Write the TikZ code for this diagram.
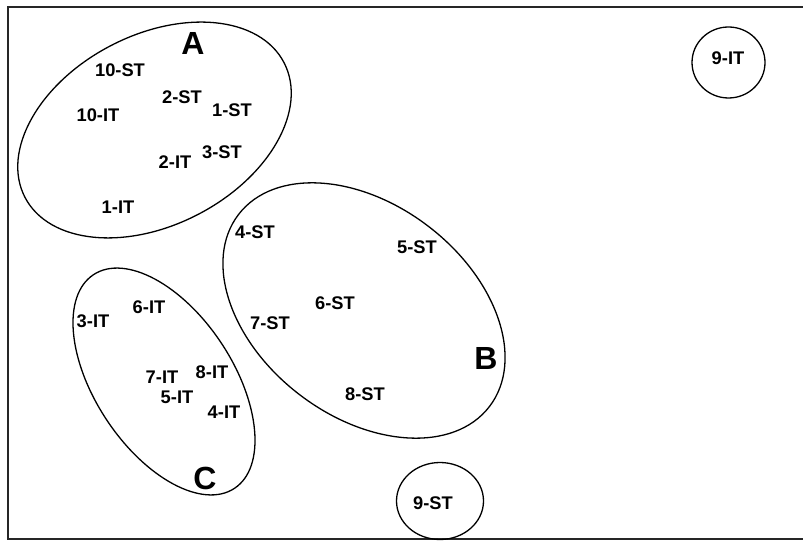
\documentclass[tikz,border=0pt]{standalone}
\usepackage{fontspec}
\setmainfont{Liberation Sans}
\begin{document}
\begin{tikzpicture}[x=1pt,y=1pt,
  lbl/.style={font=\fontsize{18.3}{18}\selectfont\bfseries, inner sep=0pt},
  big/.style={font=\fontsize{32}{32}\selectfont\bfseries, inner sep=0pt},
  grp/.style={line width=1.3pt, black},
  frame/.style={line width=1.3pt, black!85}]
\useasboundingbox (0,0) rectangle (803,541);
% frame
\coordinate (tl) at (8,534);
\coordinate (tr) at (803,534);
\coordinate (bl) at (8,2);
\coordinate (br) at (803,2);
\draw[frame] (tr) -- (tl) -- (bl) -- (br);
% groups
\draw[grp, rotate around={27.5:(154.5,411)}] (154.5,411) ellipse [x radius=146, y radius=95];
\draw[grp, rotate around={-37.4:(364,230.5)}] (364,230.5) ellipse [x radius=158, y radius=106];
\draw[grp, rotate around={-56.6:(164,159.5)}] (164,159.5) ellipse [x radius=128, y radius=69];
\draw[grp] (728.5,478.5) ellipse [x radius=36.5, y radius=35.5];
\draw[grp] (440,40) ellipse [x radius=43.5, y radius=38.5];
% big labels
\node[big] (A) at (193,498) {A};
\node[big] (B) at (486,183) {B};
\node[big] (C) at (205,63) {C};
% items
\node[lbl] (st10) at (120,471) {10-ST};
\node[lbl] (st2) at (182,444) {2-ST};
\node[lbl] (st1) at (232,431) {1-ST};
\node[lbl] (it10) at (98,426) {10-IT};
\node[lbl] (st3) at (222,389) {3-ST};
\node[lbl] (it2) at (175,379) {2-IT};
\node[lbl] (it1) at (118,334) {1-IT};
\node[lbl] (st4) at (255,309) {4-ST};
\node[lbl] (st5) at (417,294) {5-ST};
\node[lbl] (st6) at (335,238) {6-ST};
\node[lbl] (st7) at (270,218) {7-ST};
\node[lbl] (st8) at (365,147) {8-ST};
\node[lbl] (it3) at (93,220) {3-IT};
\node[lbl] (it6) at (149,234) {6-IT};
\node[lbl] (it7) at (162,164) {7-IT};
\node[lbl] (it8) at (212,169) {8-IT};
\node[lbl] (it5) at (177,144) {5-IT};
\node[lbl] (it4) at (224,129) {4-IT};
\node[lbl] (st9) at (433,38) {9-ST};
\node[lbl] (it9) at (728,483) {9-IT};
\end{tikzpicture}
\end{document}
